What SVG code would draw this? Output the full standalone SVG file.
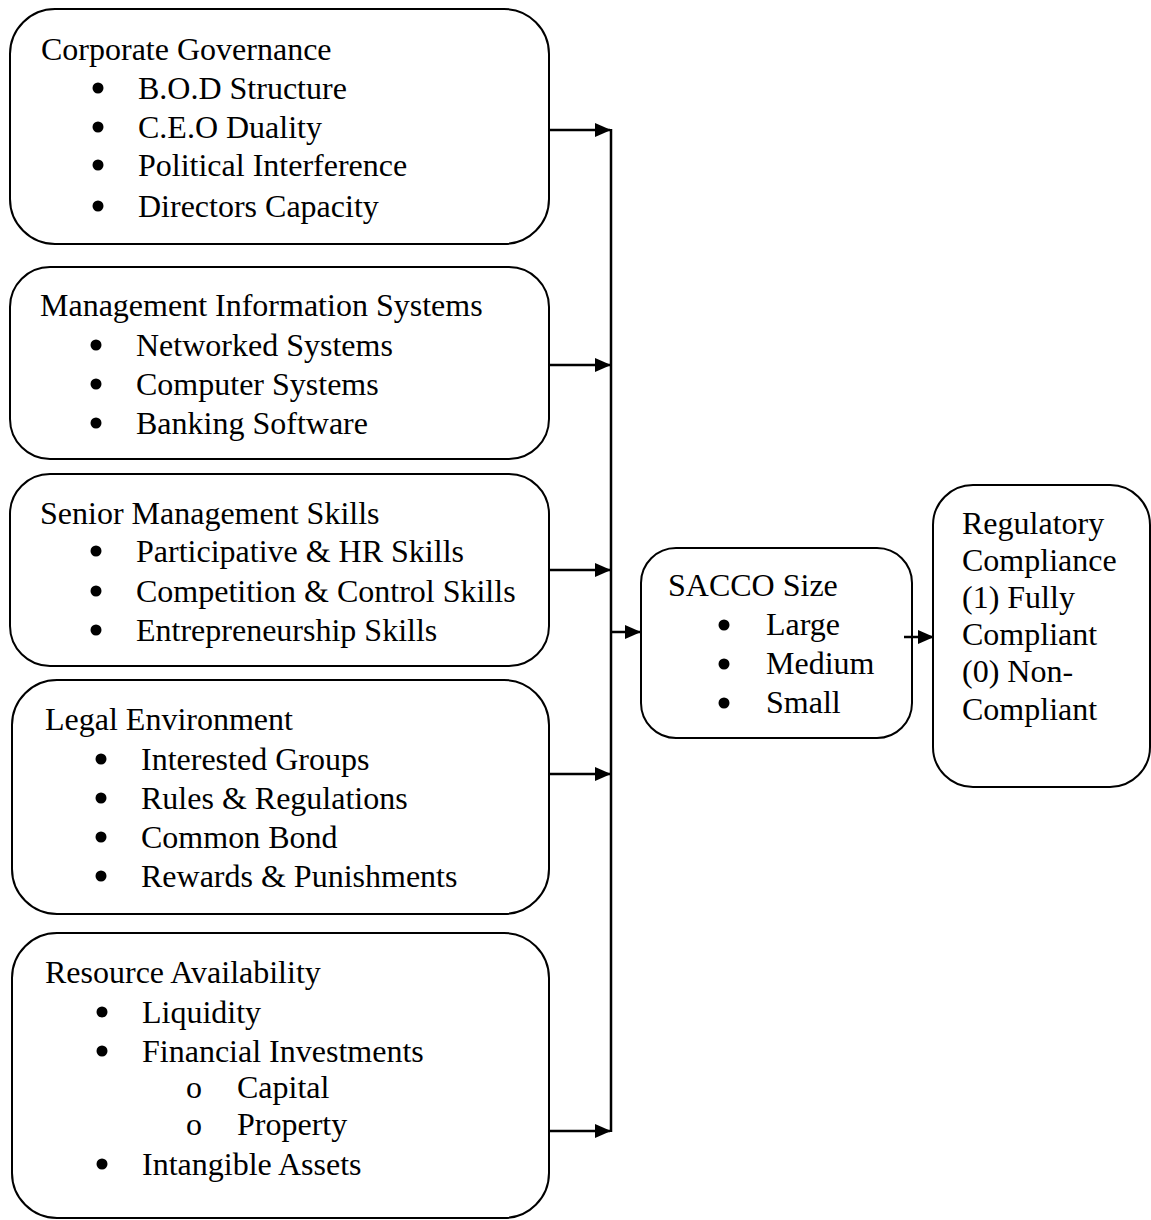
<svg xmlns="http://www.w3.org/2000/svg" width="1151" height="1220" viewBox="0 0 1151 1220">
<style>
.box{fill:#fff;stroke:#000;stroke-width:2}
text{font-family:"Liberation Serif","Times New Roman",serif;font-size:32px;fill:#000}
.b{fill:#000}
.ln{stroke:#000;stroke-width:2.5;fill:none}
</style>
<defs>
<marker id="ah" markerWidth="16" markerHeight="14" refX="15" refY="7" orient="auto" markerUnits="userSpaceOnUse">
<path d="M0,0 L16,7 L0,14 Z" fill="#000"/>
</marker>
</defs>
<rect width="1151" height="1220" fill="#fff"/>
<g id="cg">
<rect class="box" x="10" y="9" width="539" height="235" rx="45"/>
<text x="41" y="60">Corporate Governance</text>
<circle class="b" cx="98" cy="88" r="5.5"/><text x="138" y="99">B.O.D Structure</text>
<circle class="b" cx="98" cy="127" r="5.5"/><text x="138" y="138">C.E.O Duality</text>
<circle class="b" cx="98" cy="165" r="5.5"/><text x="138" y="176">Political Interference</text>
<circle class="b" cx="98" cy="206" r="5.5"/><text x="138" y="217">Directors Capacity</text>
</g>
<g id="mis">
<rect class="box" x="10" y="267" width="539" height="192" rx="40"/>
<text x="40" y="316">Management Information Systems</text>
<circle class="b" cx="96" cy="345" r="5.5"/><text x="136" y="356">Networked Systems</text>
<circle class="b" cx="96" cy="384" r="5.5"/><text x="136" y="395">Computer Systems</text>
<circle class="b" cx="96" cy="423" r="5.5"/><text x="136" y="434">Banking Software</text>
</g>
<g id="sms">
<rect class="box" x="10" y="474" width="539" height="192" rx="40"/>
<text x="40" y="524">Senior Management Skills</text>
<circle class="b" cx="96" cy="551" r="5.5"/><text x="136" y="562">Participative &amp; HR Skills</text>
<circle class="b" cx="96" cy="591" r="5.5"/><text x="136" y="602">Competition &amp; Control Skills</text>
<circle class="b" cx="96" cy="630" r="5.5"/><text x="136" y="641">Entrepreneurship Skills</text>
</g>
<g id="le">
<rect class="box" x="12" y="680" width="537" height="234" rx="45"/>
<text x="45" y="730">Legal Environment</text>
<circle class="b" cx="101" cy="759" r="5.5"/><text x="141" y="770">Interested Groups</text>
<circle class="b" cx="101" cy="798" r="5.5"/><text x="141" y="809">Rules &amp; Regulations</text>
<circle class="b" cx="101" cy="837" r="5.5"/><text x="141" y="848">Common Bond</text>
<circle class="b" cx="101" cy="876" r="5.5"/><text x="141" y="887">Rewards &amp; Punishments</text>
</g>
<g id="ra">
<rect class="box" x="12" y="933" width="537" height="285" rx="45"/>
<text x="45" y="983">Resource Availability</text>
<circle class="b" cx="102" cy="1012" r="5.5"/><text x="142" y="1023">Liquidity</text>
<circle class="b" cx="102" cy="1051" r="5.5"/><text x="142" y="1062">Financial Investments</text>
<text x="186" y="1098">o</text><text x="237" y="1098">Capital</text>
<text x="186" y="1135">o</text><text x="237" y="1135">Property</text>
<circle class="b" cx="102" cy="1164" r="5.5"/><text x="142" y="1175">Intangible Assets</text>
</g>
<g id="sacco">
<rect class="box" x="641" y="548" width="271" height="190" rx="35"/>
<text x="668" y="596">SACCO Size</text>
<circle class="b" cx="724" cy="625" r="5.5"/><text x="766" y="635">Large</text>
<circle class="b" cx="724" cy="664" r="5.5"/><text x="766" y="674">Medium</text>
<circle class="b" cx="724" cy="703" r="5.5"/><text x="766" y="713">Small</text>
</g>
<g id="rc">
<rect class="box" x="933" y="485" width="217" height="302" rx="40"/>
<text x="962" y="534">Regulatory</text>
<text x="962" y="571">Compliance</text>
<text x="962" y="608">(1) Fully</text>
<text x="962" y="645">Compliant</text>
<text x="962" y="682">(0) Non-</text>
<text x="962" y="720">Compliant</text>
</g>
<g id="connectors">
<line class="ln" x1="611" y1="129" x2="611" y2="1132"/>
<line class="ln" x1="548" y1="130" x2="610" y2="130" marker-end="url(#ah)"/>
<line class="ln" x1="548" y1="365" x2="610" y2="365" marker-end="url(#ah)"/>
<line class="ln" x1="548" y1="570" x2="610" y2="570" marker-end="url(#ah)"/>
<line class="ln" x1="548" y1="774" x2="610" y2="774" marker-end="url(#ah)"/>
<line class="ln" x1="548" y1="1131" x2="610" y2="1131" marker-end="url(#ah)"/>
<line class="ln" x1="611" y1="632" x2="640" y2="632" marker-end="url(#ah)"/>
<line class="ln" x1="904" y1="637" x2="933" y2="637" marker-end="url(#ah)"/>
</g>
</svg>
